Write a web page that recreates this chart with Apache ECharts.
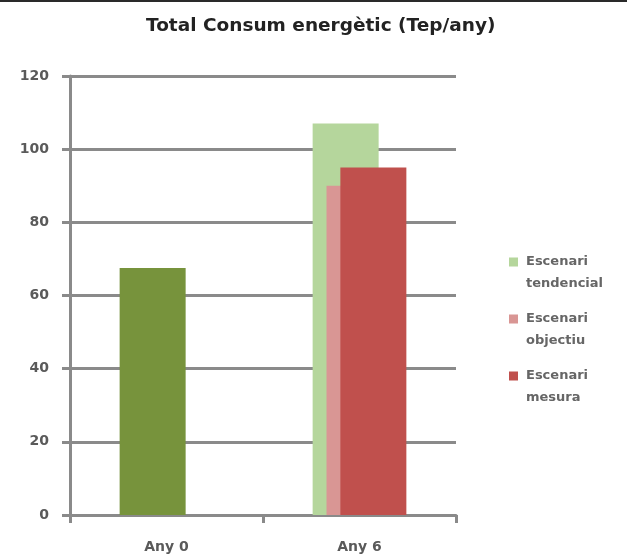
<!DOCTYPE html>
<html>
<head>
<meta charset="utf-8">
<script src="https://cdn.jsdelivr.net/npm/echarts@6/dist/echarts.min.js"></script>
<style>
  html, body { margin: 0; padding: 0; background: #ffffff; }
  #chart { width: 627px; height: 554px; }
</style>
</head>
<body>
<div id="chart"></div>
<script>
// Categories and yearly energy consumption (Tep/any) per scenario
const categories = ['Any 0', 'Any 6'];
const seriesNames = ['Escenari tendencial', 'Escenari objectiu', 'Escenari mesura'];
const tendencial = [67.5, 107];
const objectiu = [null, 90];
const mesura = [null, 95];
const yTicks = { min: 0, max: 120, interval: 20 };

const chart = echarts.init(document.getElementById('chart'), null, { renderer: 'canvas' });

const FONT = '"DejaVu Sans", sans-serif';
const GRID_GRAY = '#8a8a8a';

// Square legend marker that sits at the top of a taller box, so it lines up with the first text line
const legendIcon = 'path://M0,0L10,0L10,10L0,10Z M0,34.4L0.001,34.4Z';

const barBase = { type: 'bar', barWidth: 66, barGap: '-79%' };

chart.setOption({
  animation: false,
  backgroundColor: '#ffffff',
  title: {
    text: 'Total Consum energètic (Tep/any)',
    left: 141,
    top: 12,
    textStyle: { fontFamily: FONT, fontSize: 18.5, fontWeight: 'bold', color: '#222222' }
  },
  graphic: [{
    type: 'line',
    shape: { x1: 0, y1: 1, x2: 627, y2: 1 },
    style: { stroke: '#2a2a2a', lineWidth: 2 }
  }],
  legend: {
    orient: 'vertical',
    left: 504,
    top: 246,
    itemWidth: 9,
    itemHeight: 31,
    itemGap: 13,
    icon: legendIcon,
    formatter: name => name.replace(' ', '\n'),
    textStyle: { fontFamily: FONT, fontSize: 13, fontWeight: 'bold', color: '#666666', lineHeight: 22, padding: [0, 0, 0, 3] },
    data: seriesNames
  },
  grid: { left: 70, right: 171, top: 76, bottom: 39, containLabel: false },
  xAxis: {
    type: 'category',
    data: categories,
    boundaryGap: true,
    axisLine: { lineStyle: { color: GRID_GRAY, width: 3 } },
    axisTick: { show: true, alignWithLabel: false, length: 8, lineStyle: { color: GRID_GRAY, width: 3 } },
    axisLabel: { margin: 25, fontFamily: FONT, fontSize: 14, fontWeight: 'bold', color: '#5a5a5a' },
    splitLine: { show: false }
  },
  yAxis: {
    type: 'value',
    min: yTicks.min,
    max: yTicks.max,
    interval: yTicks.interval,
    axisLine: { show: true, lineStyle: { color: GRID_GRAY, width: 3 } },
    axisTick: { show: true, length: 8, lineStyle: { color: GRID_GRAY, width: 3 } },
    axisLabel: { margin: 21, fontFamily: FONT, fontSize: 14, fontWeight: 'bold', color: '#5a5a5a' },
    splitLine: { show: true, lineStyle: { color: GRID_GRAY, width: 3 } }
  },
  series: [
    Object.assign({}, barBase, {
      name: seriesNames[0],
      itemStyle: { color: '#B5D69C' },
      data: tendencial.map((v, i) => i === 0 ? { value: v, itemStyle: { color: '#77933C' } } : v)
    }),
    Object.assign({}, barBase, {
      name: seriesNames[1],
      itemStyle: { color: '#D99694' },
      data: objectiu
    }),
    Object.assign({}, barBase, {
      name: seriesNames[2],
      itemStyle: { color: '#C0504D' },
      data: mesura
    })
  ]
});
</script>
</body>
</html>
